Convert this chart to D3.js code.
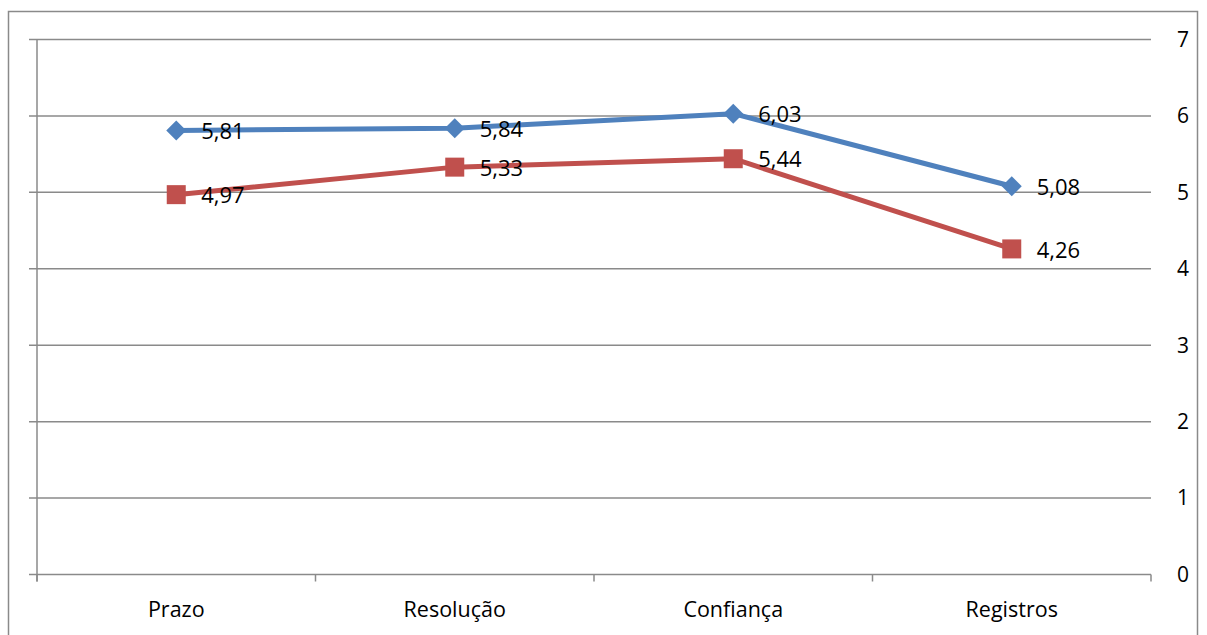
<!DOCTYPE html>
<html>
<head>
<meta charset="utf-8">
<script src="https://cdn.jsdelivr.net/npm/d3@7"></script>
<style>
  html, body { margin: 0; padding: 0; background: #fff; }
  svg { display: block; font-family: "Open Sans", "Noto Sans", sans-serif; }
</style>
</head>
<body>
<svg id="chart" width="1207" height="635"></svg>
<script>
// Categories and series
const categories = ["Prazo", "Resolução", "Confiança", "Registros"];
const seriesBlue = [5.81, 5.84, 6.03, 5.08];
const seriesRed = [4.97, 5.33, 5.44, 4.26];
const yTicks = [0, 1, 2, 3, 4, 5, 6, 7];

(function () {
  const svg = d3.select("#chart");
  const plotLeft = 37, plotRight = 1151, plotTop = 39.5, plotBottom = 574.5;
  const gridColor = "#8a8a8a";

  // Outer frame
  svg.append("rect")
    .attr("x", 8.5).attr("y", 11.5)
    .attr("width", 1189).attr("height", 640)
    .attr("fill", "none").attr("stroke", gridColor).attr("stroke-width", 1.5);

  const x = d3.scaleBand().domain(categories).range([plotLeft, plotRight]).padding(0);
  const y = d3.scaleLinear().domain([0, 7]).range([plotBottom, plotTop]);

  // Horizontal gridlines (extend slightly left of the axis as tick marks)
  svg.append("g").selectAll("line").data(yTicks).join("line")
    .attr("x1", plotLeft - 8).attr("x2", plotRight)
    .attr("y1", d => y(d)).attr("y2", d => y(d))
    .attr("stroke", gridColor).attr("stroke-width", 1.5);

  // Left axis line
  svg.append("line")
    .attr("x1", plotLeft).attr("x2", plotLeft)
    .attr("y1", plotTop).attr("y2", plotBottom + 7)
    .attr("stroke", gridColor).attr("stroke-width", 1.5);

  // Category boundary ticks on the bottom axis
  const boundaries = categories.map(c => x(c)).concat([plotRight]);
  svg.append("g").selectAll("line").data(boundaries).join("line")
    .attr("x1", d => d).attr("x2", d => d)
    .attr("y1", plotBottom).attr("y2", plotBottom + 7)
    .attr("stroke", gridColor).attr("stroke-width", 1.5);

  // Right-hand value labels
  svg.append("g").selectAll("text").data(yTicks).join("text")
    .attr("x", 1183).attr("y", d => y(d))
    .attr("dy", "0.35em")
    .attr("text-anchor", "middle")
    .attr("font-size", 21).attr("fill", "#000")
    .text(d => d);

  // Category labels
  svg.append("g").selectAll("text").data(categories).join("text")
    .attr("x", d => x(d) + x.bandwidth() / 2).attr("y", 609)
    .attr("dy", "0.35em")
    .attr("text-anchor", "middle")
    .attr("font-size", 21.5).attr("fill", "#000")
    .text(d => d);

  const cx = c => x(c) + x.bandwidth() / 2;
  const line = d3.line().x((d, i) => cx(categories[i])).y(d => y(d));
  const fmt = v => d3.format(".2f")(v).replace(".", ",");

  function drawSeries(values, color, shape) {
    svg.append("path").datum(values)
      .attr("d", line).attr("fill", "none")
      .attr("stroke", color).attr("stroke-width", 5)
      .attr("stroke-linejoin", "round");
    const g = svg.append("g");
    values.forEach((v, i) => {
      const px = cx(categories[i]), py = y(v);
      if (shape === "diamond") {
        g.append("path")
          .attr("d", `M${px},${py - 10}L${px + 10},${py}L${px},${py + 10}L${px - 10},${py}Z`)
          .attr("fill", color);
      } else {
        g.append("rect")
          .attr("x", px - 9.5).attr("y", py - 9.5)
          .attr("width", 19).attr("height", 19)
          .attr("fill", color);
      }
      g.append("text")
        .attr("x", px + 25).attr("y", py + 1)
        .attr("dy", "0.35em")
        .attr("font-size", 22).attr("fill", "#000")
        .text(fmt(v));
    });
  }

  drawSeries(seriesRed, "#C0504D", "square");
  drawSeries(seriesBlue, "#4F81BD", "diamond");
})();
</script>
</body>
</html>
